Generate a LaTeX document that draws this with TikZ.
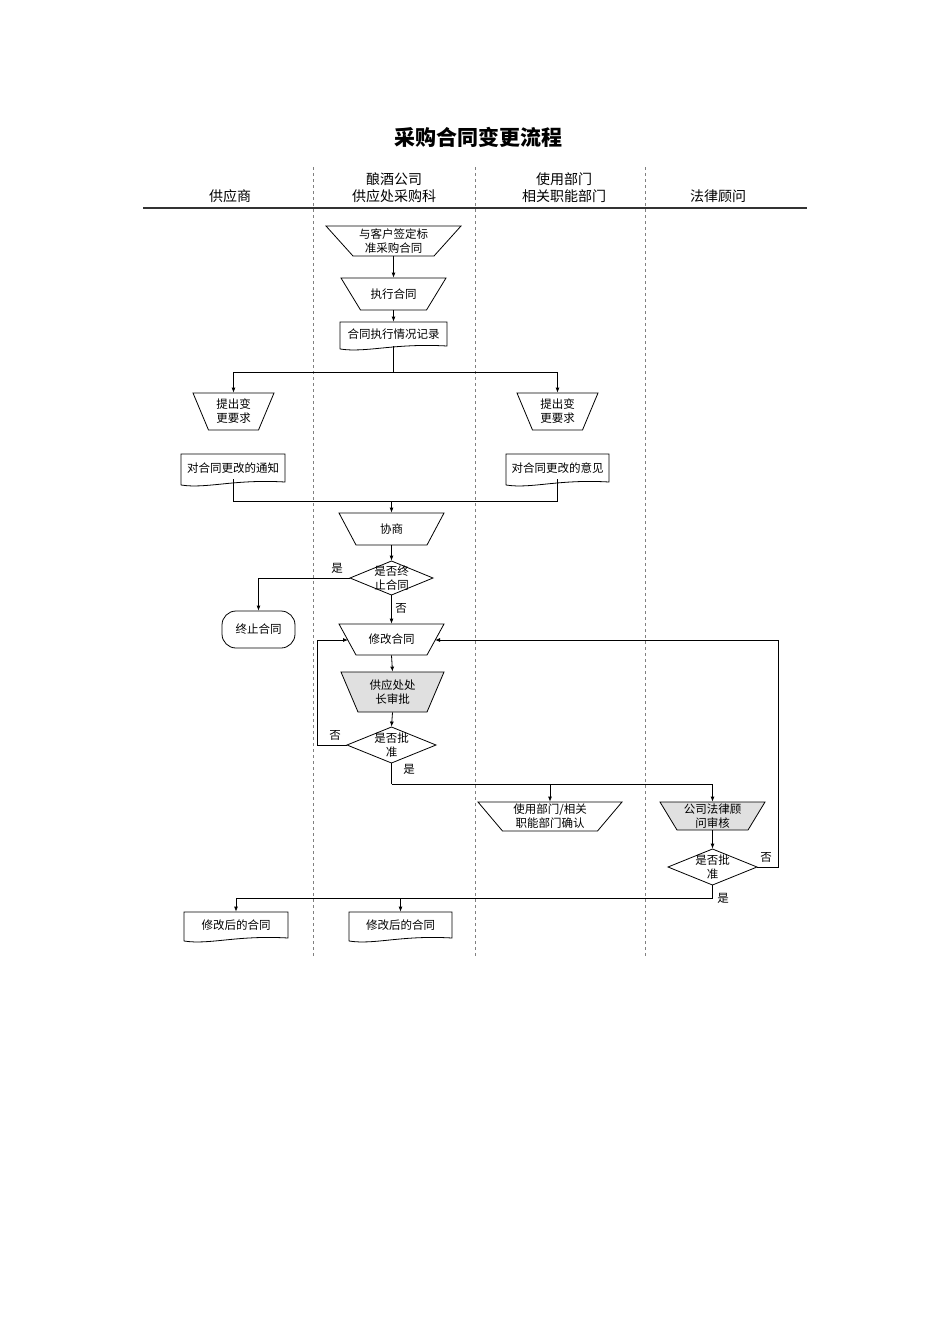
\documentclass[tikz,border=0pt]{standalone}
\usepackage{fontspec}
\setmainfont{Noto Sans CJK SC}
\usetikzlibrary{arrows.meta,calc}
\tikzset{
  box/.style={inner sep=0pt,align=center,font=\fontsize{11.5}{14}\selectfont},
  arr/.style={-{Latex[length=5pt,width=4pt]}},
  lbl/.style={font=\fontsize{11.5}{14}\selectfont,inner sep=0pt},
  hdr/.style={font=\fontsize{14}{17}\selectfont,inner sep=0pt,align=center},
  lane/.style={gray,dashed,line width=0.5pt},
}
\newcommand\trap[8]{%
  \filldraw[fill=#7,line width=0.8pt] ({#2-#4/2},{#3-#6/2}) -- ({#2+#4/2},{#3-#6/2}) -- ({#2+#5/2},{#3+#6/2}) -- ({#2-#5/2},{#3+#6/2}) -- cycle;
  \node[box,minimum width=#4,minimum height=#6] (#1) at (#2,#3) {#8};}
\newcommand\docu[6]{%
  \draw[line width=0.8pt] ({#2-#4/2},{#3+#5/2+3}) -- ({#2-#4/2},{#3-#5/2}) -- ({#2+#4/2},{#3-#5/2}) -- ({#2+#4/2},{#3+#5/2}) .. controls ({#2},{#3+#5/2-3}) and ({#2-#4/4},{#3+#5/2+7}) .. ({#2-#4/2},{#3+#5/2+3});
  \node[box,minimum width=#4,minimum height=#5] (#1) at (#2,#3) {#6};}
\newcommand\dia[6]{%
  \draw[line width=0.8pt] ({#2-#4/2},#3) -- (#2,{#3-#5/2}) -- ({#2+#4/2},#3) -- (#2,{#3+#5/2}) -- cycle;
  \node[box,minimum width=#4,minimum height=#5] (#1) at (#2,#3) {#6};}
\begin{document}
\begin{tikzpicture}[x=1pt,y=-1pt,line width=0.8pt]
\useasboundingbox[fill=white] (0,0) rectangle (950,1344);
\node[font=\fontsize{21}{24}\selectfont\bfseries,inner sep=0] (title) at (478,137) {采购合同变更流程};
% header
\node[hdr] (h1) at (230,196) {供应商};
\node[hdr] (h2) at (394,188) {酿酒公司\\供应处采购科};
\node[hdr] (h3) at (564,188) {使用部门\\相关职能部门};
\node[hdr] (h4) at (718,196) {法律顾问};
\draw[line width=1.1pt,black!80] (143,208) -- (807,208);
\foreach \x in {313,475,645} \draw[lane] (\x,167) -- (\x,957);
% nodes
\trap{t1}{393.5}{241}{135}{81}{30}{white}{与客户签定标\\准采购合同}
\trap{t2}{393.5}{294}{105}{66}{32}{white}{执行合同}
\docu{d1}{393.5}{334}{107}{24}{合同执行情况记录}
\trap{t3}{233.5}{411.5}{81}{50}{37}{white}{提出变\\更要求}
\trap{t4}{557.5}{411.5}{81}{50}{37}{white}{提出变\\更要求}
\docu{d2}{233}{468}{104}{28}{对合同更改的通知}
\docu{d3}{557.5}{468}{103}{28}{对合同更改的意见}
\trap{t5}{391.5}{529}{105}{71}{32}{white}{协商}
\dia{c1}{391.5}{578}{83}{34}{是否终\\止合同}
\node[draw,rounded corners=14pt,minimum width=73,minimum height=37,box] (end) at (258.5,629.5) {终止合同};
\trap{t6}{391.5}{639.5}{105}{71}{31}{white}{修改合同}
\trap{t7}{392.5}{692}{103}{69}{40}{black!12}{供应处处\\长审批}
\dia{c2}{391.5}{745}{89}{36}{是否批\\准}
\trap{t8}{550}{816.5}{144}{95}{29}{white}{使用部门/相关\\职能部门确认}
\trap{t9}{712.5}{816}{105}{71}{28}{black!12}{公司法律顾\\问审核}
\dia{c3}{712.5}{867}{89}{36}{是否批\\准}
\docu{d4}{236}{925}{104}{26}{修改后的合同}
\docu{d5}{400.5}{925}{103}{26}{修改后的合同}
% connectors
\draw[arr] (t1.south) -- (t2.north);
\draw[arr] (t2.south) -- (d1.north);
\coordinate (j1) at (393.5,372);
\draw (d1.south) -- (j1);
\draw[arr] (j1) -| (t3.north);
\draw[arr] (j1) -| (t4.north);
\coordinate (j2) at (391.5,501);
\draw ([yshift=3pt]d2.south) |- (j2);
\draw ([yshift=3pt]d3.south) |- (j2);
\draw[arr] (j2) -- (t5.north);
\draw[arr] (t5.south) -- (c1.north);
\draw[arr] (c1.west) -| (end.north);
\draw[arr] (c1.south) -- (t6.north);
\draw[arr] (t6.south) -- (t7.north);
\draw[arr] (t7.south) -- (c2.north);
\coordinate (t6l) at (348,640);
\coordinate (t6r) at (435,640);
\draw[arr] (c2.west) -- (317,745) |- (t6l);
\coordinate (j3) at (391.5,784);
\draw (c2.south) -- (j3);
\draw[arr] (j3) -| (t8.north);
\draw[arr] (j3) -| (t9.north);
\draw[arr] (t9.south) -- (c3.north);
\draw[arr] (c3.east) -- (778,867) |- (t6r);
\coordinate (j4) at (712.5,898);
\draw (c3.south) -- (j4);
\draw[arr] (j4) -| (d4.north);
\draw[arr] (j4) -| (d5.north);
% labels
\node[lbl] (l1) at (337,568) {是};
\node[lbl] (l2) at (401,608) {否};
\node[lbl] (l3) at (335,735) {否};
\node[lbl] (l4) at (409,769) {是};
\node[lbl] (l5) at (766,857) {否};
\node[lbl] (l6) at (723,898) {是};
\end{tikzpicture}
\end{document}
